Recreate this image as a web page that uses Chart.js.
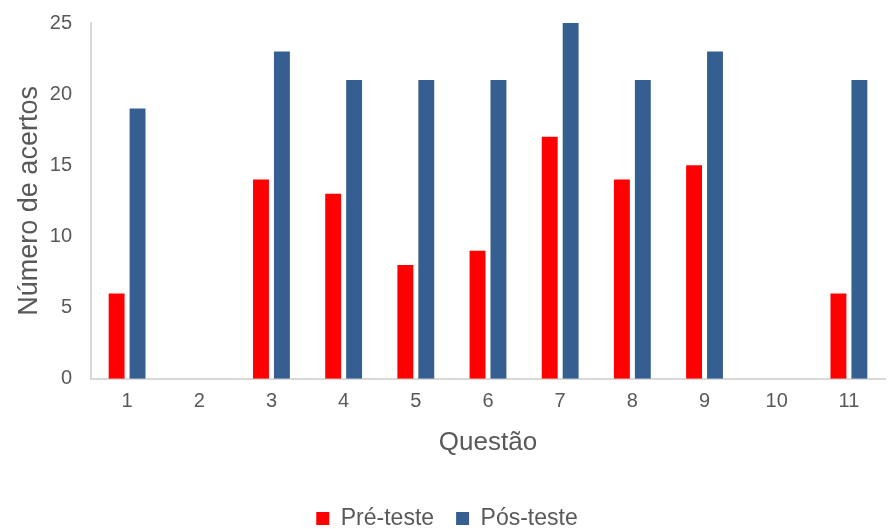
<!DOCTYPE html>
<html>
<head>
<meta charset="utf-8">
<script src="https://cdn.jsdelivr.net/npm/chart.js@4"></script>
<style>
    html, body { margin: 0; padding: 0; background: #fff; }
    #wrap { width: 888px; height: 529px; }
</style>
</head>
<body>
<div id="wrap"><canvas id="acertosChart"></canvas></div>
<script>
// Acertos por questão, antes e depois
const questoes = ['1', '2', '3', '4', '5', '6', '7', '8', '9', '10', '11'];
const preTeste = [6, 0, 14, 13, 8, 9, 17, 14, 15, 0, 6];
const posTeste = [19, 0, 23, 21, 21, 21, 25, 21, 23, 0, 21];
const yTicks = [0, 5, 10, 15, 20, 25];

const textColor = '#595959';
const axisColor = '#d9d9d9';
const fontFamily = 'Liberation Sans, Arial, sans-serif';

document.addEventListener('DOMContentLoaded', function() {
    'use strict';

    const ctx = document.getElementById('acertosChart').getContext('2d');
    new Chart(ctx, {
        type: 'bar',
        data: {
            labels: questoes,
            datasets: [
                {
                    label: 'Pré-teste',
                    data: preTeste,
                    backgroundColor: '#ff0000',
                    borderWidth: 0
                },
                {
                    label: 'Pós-teste',
                    data: posTeste,
                    backgroundColor: '#365f91',
                    borderWidth: 0
                }
            ]
        },
        options: {
            responsive: true,
            maintainAspectRatio: false,
            animation: false,
            categoryPercentage: 0.58,
            barPercentage: 0.76,
            layout: {
                padding: { top: -4, right: 3, left: 9, bottom: -11 }
            },
            plugins: {
                tooltip: { enabled: false },
                legend: {
                    position: 'bottom',
                    labels: {
                        color: textColor,
                        font: { family: fontFamily, size: 23 },
                        boxWidth: 13,
                        boxHeight: 13,
                        padding: 22
                    }
                }
            },
            scales: {
                x: {
                    grid: { display: false },
                    border: { display: true, color: axisColor, width: 2 },
                    ticks: {
                        color: textColor,
                        font: { family: fontFamily, size: 20 },
                        padding: 3
                    },
                    title: {
                        display: true,
                        text: 'Questão',
                        color: textColor,
                        font: { family: fontFamily, size: 26 },
                        padding: { top: 10, bottom: 27 }
                    }
                },
                y: {
                    min: 0,
                    max: 25,
                    afterBuildTicks: function(axis) {
                        axis.ticks = yTicks.map(v => ({ value: v }));
                    },
                    afterFit: function(axis) {
                        axis.width = 82;
                    },
                    grid: { display: false },
                    border: { display: true, color: axisColor, width: 2 },
                    ticks: {
                        color: textColor,
                        font: { family: fontFamily, size: 20 },
                        padding: 11
                    },
                    title: {
                        display: true,
                        text: 'Número de acertos',
                        color: textColor,
                        font: { family: fontFamily, size: 27 },
                        padding: { top: 4, bottom: 0 }
                    }
                }
            }
        }
    });
});
</script>
</body>
</html>
